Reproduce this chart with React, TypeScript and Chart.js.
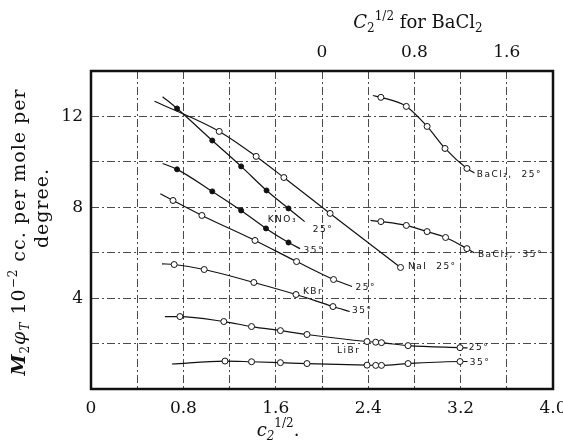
import React, { useEffect, useRef } from 'react';
import { Chart, registerables } from 'chart.js';

Chart.register(...registerables);

// ---- axes ----
const X_MIN = 0;
const X_MAX = 4.0;
const X_STEP = 0.4;
const X_TICK_VALUES = [0, 0.8, 1.6, 2.4, 3.2, 4.0];
const X_TICK_LABELS = ['0', '0.8', '1.6', '2.4', '3.2', '4.0'];
const Y_MIN = 0;
const Y_MAX = 14;
const Y_STEP = 2;
const Y_TICK_VALUES = [4, 8, 12];
const Y_TICK_LABELS = ['4', '8', '12'];
const BA_MIN = -2.0;
const BA_MAX = 2.0;
const BA_TICK_VALUES = [0, 0.8, 1.6];
const BA_TICK_LABELS = ['0', '0.8', '1.6'];

// ---- series (x = c2^1/2, y = M2 phiT x 10^-2) ----
const NAI_25_X = [0.55, 1.11, 1.43, 1.67, 2.07, 2.68];
const NAI_25_Y = [12.67, 11.34, 10.24, 9.31, 7.73, 5.35];

const KNO3_25_X = [0.62, 0.745, 1.05, 1.3, 1.52, 1.71, 1.85];
const KNO3_25_Y = [12.87, 12.35, 10.94, 9.8, 8.74, 7.95, 7.37];

const KNO3_35_X = [0.62, 0.745, 1.05, 1.3, 1.515, 1.71, 1.81];
const KNO3_35_Y = [9.93, 9.67, 8.7, 7.86, 7.07, 6.45, 6.18];

const KBR_25_X = [0.6, 0.71, 0.96, 1.42, 1.78, 2.1, 2.26];
const KBR_25_Y = [8.6, 8.3, 7.64, 6.54, 5.61, 4.82, 4.51];

const KBR_35_X = [0.615, 0.72, 0.98, 1.41, 1.775, 2.095, 2.24];
const KBR_35_Y = [5.51, 5.48, 5.26, 4.69, 4.16, 3.63, 3.41];

const LIBR_25_X = [0.64, 0.77, 1.15, 1.39, 1.64, 1.87, 2.39, 2.465, 2.515, 2.745, 3.195, 3.26];
const LIBR_25_Y = [3.19, 3.19, 2.97, 2.75, 2.57, 2.4, 2.09, 2.06, 2.04, 1.91, 1.82, 1.81];

const LIBR_35_X = [0.7, 1.16, 1.39, 1.64, 1.87, 2.39, 2.465, 2.515, 2.745, 3.195, 3.26];
const LIBR_35_Y = [1.1, 1.23, 1.2, 1.16, 1.12, 1.05, 1.04, 1.04, 1.12, 1.21, 1.21];

// BaCl2 series use the top scale (C2^1/2 for BaCl2)
const BACL2_25_X = [0.44, 0.51, 0.73, 0.91, 1.065, 1.255, 1.32];
const BACL2_25_Y = [12.92, 12.84, 12.44, 11.56, 10.59, 9.71, 9.51];

const BACL2_35_X = [0.42, 0.51, 0.73, 0.91, 1.07, 1.255, 1.32];
const BACL2_35_Y = [7.42, 7.37, 7.2, 6.93, 6.67, 6.18, 5.99];

// ---- curve labels (bottom-axis units) ----
const LABEL_TEXT = ['KNO₃', '25°', '35°', 'NaI  25°', 'KBr', '25°', '35°', 'LiBr', '25°', '35°', 'BaCl₂,  25°', 'BaCl₂,  35°'];
const LABEL_X = [1.53, 1.92, 1.84, 2.745, 1.835, 2.29, 2.26, 2.13, 3.27, 3.28, 3.34, 3.35];
const LABEL_Y = [7.44, 7.0, 6.1, 5.37, 4.27, 4.45, 3.43, 1.67, 1.83, 1.16, 9.42, 5.9];

type Series = { xs: number[]; ys: number[]; filled: boolean; axis: string; bare: number[] };

const SERIES: Series[] = [
  { xs: NAI_25_X, ys: NAI_25_Y, filled: false, axis: 'x', bare: [0] },
  { xs: KNO3_25_X, ys: KNO3_25_Y, filled: true, axis: 'x', bare: [0, 6] },
  { xs: KNO3_35_X, ys: KNO3_35_Y, filled: true, axis: 'x', bare: [0, 6] },
  { xs: KBR_25_X, ys: KBR_25_Y, filled: false, axis: 'x', bare: [0, 6] },
  { xs: KBR_35_X, ys: KBR_35_Y, filled: false, axis: 'x', bare: [0, 6] },
  { xs: LIBR_25_X, ys: LIBR_25_Y, filled: false, axis: 'x', bare: [0, 11] },
  { xs: LIBR_35_X, ys: LIBR_35_Y, filled: false, axis: 'x', bare: [0, 10] },
  { xs: BACL2_25_X, ys: BACL2_25_Y, filled: false, axis: 'x2', bare: [0, 6] },
  { xs: BACL2_35_X, ys: BACL2_35_Y, filled: false, axis: 'x2', bare: [0, 6] },
];

const SERIF = '"DejaVu Serif", serif';

type Run = { text: string; font: string; dy?: number };

function runsWidth(ctx: CanvasRenderingContext2D, runs: Run[]) {
  let w = 0;
  for (const r of runs) {
    ctx.font = r.font;
    w += ctx.measureText(r.text).width;
  }
  return w;
}

function drawRuns(ctx: CanvasRenderingContext2D, runs: Run[], x: number, y: number, center: boolean) {
  let cx = center ? x - runsWidth(ctx, runs) / 2 : x;
  ctx.textAlign = 'left';
  ctx.textBaseline = 'alphabetic';
  for (const r of runs) {
    ctx.font = r.font;
    ctx.fillText(r.text, cx, y + (r.dy || 0));
    cx += ctx.measureText(r.text).width;
  }
}

const BIG = `18px ${SERIF}`;
const BIG_I = `italic 18px ${SERIF}`;
const SMALL = `12px ${SERIF}`;
const SMALL_I = `italic 12px ${SERIF}`;
const YT = `19px ${SERIF}`;
const YT_I = `italic 19px ${SERIF}`;

const decorPlugin = {
  id: 'decor',
  afterDatasetsDraw(chart: any) {
    const ctx: CanvasRenderingContext2D = chart.ctx;
    const xs = chart.scales.x;
    const ys = chart.scales.y;
    ctx.save();
    ctx.fillStyle = '#111';
    ctx.font = `9px "DejaVu Sans", sans-serif`;
    (ctx as any).letterSpacing = '1.5px';
    ctx.textAlign = 'left';
    ctx.textBaseline = 'middle';
    LABEL_TEXT.forEach((t, i) => {
      ctx.fillText(t, xs.getPixelForValue(LABEL_X[i]), ys.getPixelForValue(LABEL_Y[i]));
    });
    ctx.restore();
  },
  afterDraw(chart: any) {
    const ctx: CanvasRenderingContext2D = chart.ctx;
    const a = chart.chartArea;
    ctx.save();
    // frame
    ctx.strokeStyle = '#111';
    ctx.lineWidth = 2.5;
    ctx.strokeRect(a.left, a.top, a.right - a.left, a.bottom - a.top);
    ctx.fillStyle = '#111';
    // top title
    drawRuns(ctx, [
      { text: 'C', font: BIG_I },
      { text: '2', font: SMALL, dy: 4 },
      { text: '1/2', font: SMALL, dy: -8 },
      { text: ' for BaCl', font: BIG },
      { text: '2', font: SMALL, dy: 4 },
    ], 418, 28, true);
    // bottom title
    drawRuns(ctx, [
      { text: 'c', font: BIG_I },
      { text: '2', font: SMALL_I, dy: 4 },
      { text: '1/2', font: SMALL, dy: -9 },
      { text: '.', font: BIG },
    ], 278, 436, true);
    // y title (rotated)
    const cy = (a.top + a.bottom) / 2;
    ctx.save();
    (ctx as any).letterSpacing = '1px';
    ctx.translate(25, cy + 2);
    ctx.rotate(-Math.PI / 2);
    drawRuns(ctx, [
      { text: 'M', font: `italic bold 19px ${SERIF}` },
      { text: '2', font: SMALL, dy: 4 },
      { text: 'φ', font: YT_I },
      { text: 'T', font: SMALL_I, dy: 4 },
      { text: ' 10', font: YT },
      { text: '−2', font: SMALL, dy: -8 },
      { text: ' cc. per mole per', font: YT },
    ], 0, 0, true);
    ctx.restore();
    ctx.save();
    (ctx as any).letterSpacing = '1px';
    ctx.translate(48, cy - 22);
    ctx.rotate(-Math.PI / 2);
    drawRuns(ctx, [{ text: 'degree.', font: YT }], 0, 0, true);
    ctx.restore();
    ctx.restore();
  },
};

function labelFor(values: number[], labels: string[]) {
  return (v: any) => {
    const n = Number(v);
    const i = values.findIndex((t) => Math.abs(t - n) < 1e-6);
    return i >= 0 ? labels[i] : '';
  };
}

export default function App() {
  const ref = useRef<HTMLCanvasElement>(null);

  useEffect(() => {
    if (!ref.current) return;
    const gridColor = 'rgba(30,30,30,0.8)';
    const chart = new Chart(ref.current, {
      type: 'scatter',
      data: {
        datasets: SERIES.map((s) => ({
          data: s.xs.map((x, i) => ({ x, y: s.ys[i] })),
          xAxisID: s.axis,
          yAxisID: 'y',
          showLine: true,
          borderColor: '#111',
          borderWidth: 1.2,
          cubicInterpolationMode: 'monotone' as const,
          pointRadius: s.xs.map((_, i) => (s.bare.includes(i) ? 0 : s.filled ? 2.5 : 3.0)),
          pointBackgroundColor: s.filled ? '#111' : '#fff',
          pointBorderColor: '#111',
          pointBorderWidth: 1,
        })),
      },
      options: {
        responsive: false,
        animation: false,
        devicePixelRatio: 1,
        layout: { padding: { left: 0, right: 10, top: 0, bottom: 0 } },
        plugins: { legend: { display: false }, tooltip: { enabled: false }, title: { display: false } },
        scales: {
          x: {
            type: 'linear',
            position: 'bottom',
            min: X_MIN,
            max: X_MAX,
            ticks: {
              stepSize: X_STEP,
              autoSkip: false,
              maxRotation: 0,
              padding: 9,
              color: '#111',
              font: { family: SERIF, size: 17 },
              callback: labelFor(X_TICK_VALUES, X_TICK_LABELS),
            },
            grid: { color: gridColor, lineWidth: 1, drawTicks: false },
            border: { display: false, dash: [8, 3, 2, 3] },
            afterFit: (s: any) => { s.height = 54; s.paddingLeft = 0; s.paddingRight = 0; },
          },
          x2: {
            type: 'linear',
            position: 'top',
            min: BA_MIN,
            max: BA_MAX,
            ticks: {
              stepSize: 0.4,
              autoSkip: false,
              maxRotation: 0,
              padding: 8,
              color: '#111',
              font: { family: SERIF, size: 17 },
              callback: labelFor(BA_TICK_VALUES, BA_TICK_LABELS),
            },
            grid: { display: false, drawTicks: false },
            border: { display: false },
            afterFit: (s: any) => { s.height = 71; s.paddingLeft = 0; s.paddingRight = 0; },
          },
          y: {
            type: 'linear',
            min: Y_MIN,
            max: Y_MAX,
            ticks: {
              stepSize: Y_STEP,
              autoSkip: false,
              padding: 8,
              color: '#111',
              font: { family: SERIF, size: 17 },
              callback: labelFor(Y_TICK_VALUES, Y_TICK_LABELS),
            },
            grid: { color: gridColor, lineWidth: 1, drawTicks: false },
            border: { display: false, dash: [8, 3, 2, 3] },
            afterFit: (s: any) => { s.width = 91; s.paddingTop = 0; s.paddingBottom = 0; },
          },
        },
      },
      plugins: [decorPlugin],
    } as any);
    return () => chart.destroy();
  }, []);

  return (
    <canvas
      ref={ref}
      width={563}
      height={443}
      style={{ position: 'fixed', left: 0, top: 0, width: 563, height: 443, background: '#fff' }}
    />
  );
}
